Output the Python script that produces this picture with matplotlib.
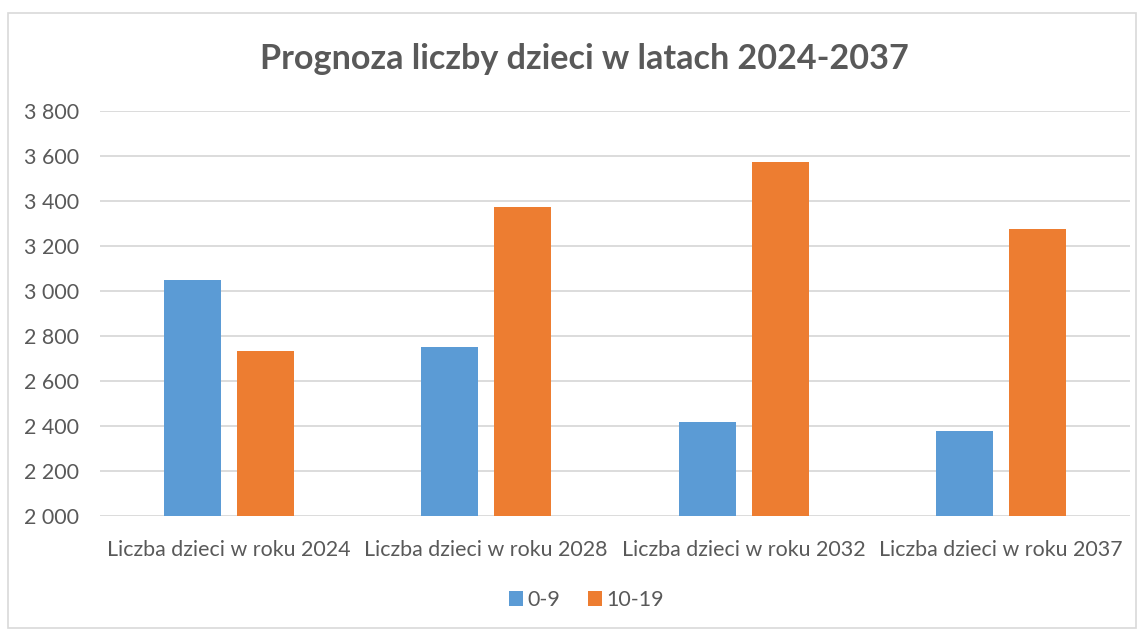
import matplotlib
matplotlib.use("Agg")
from matplotlib import pyplot as plt
from matplotlib.patches import Rectangle
from matplotlib.ticker import FuncFormatter
import numpy as np

categories = [
    "Liczba dzieci w roku 2024",
    "Liczba dzieci w roku 2028",
    "Liczba dzieci w roku 2032",
    "Liczba dzieci w roku 2037",
]
series_names = ["0-9", "10-19"]
values_0_9 = [3051, 2752, 2418, 2378]
values_10_19 = [2733, 3375, 3572, 3276]
colors = ["#5B9BD5", "#ED7D31"]
text_color = "#595959"
grid_color = "#D9D9D9"

plt.rcParams["font.family"] = ["Lato", "DejaVu Sans"]

fig = plt.figure(figsize=(11.43, 6.31), dpi=100)
ax = fig.add_axes([0.0875, 0.182, 0.901, 0.642])

x = np.arange(len(categories))
width = 0.221
offset = 0.142
ax.bar(x - offset, values_0_9, width, color=colors[0], label=series_names[0], zorder=3)
ax.bar(x + offset, values_10_19, width, color=colors[1], label=series_names[1], zorder=3)

ax.set_xlim(-0.5, len(categories) - 0.5)
ax.set_ylim(2000, 3800)
ax.set_yticks(np.arange(2000, 3801, 200))
ax.yaxis.set_major_formatter(FuncFormatter(lambda v, p: f"{int(v):,}".replace(",", " ")))
ax.set_xticks(x)
ax.set_xticklabels(categories)
ax.grid(axis="y", color=grid_color, linewidth=1.3, zorder=0)
for s in ax.spines.values():
    s.set_visible(False)
ax.tick_params(axis="both", length=0, labelsize=15.4, labelcolor=text_color)
ax.tick_params(axis="y", pad=15)
ax.tick_params(axis="x", pad=17)

fig.suptitle("Prognoza liczby dzieci w latach 2024-2037", x=0.511, y=0.907,
             fontsize=24.6, fontweight="bold", color=text_color, va="center")

fig.legend(loc="center", bbox_to_anchor=(0.513, 0.049), ncol=2, frameon=False,
           fontsize=15.4, labelcolor=text_color, handlelength=0.65, handleheight=0.65,
           handletextpad=0.2, columnspacing=1.3)

fig.patches.append(Rectangle((0.007, 0.005), 0.987, 0.975, transform=fig.transFigure,
                             fill=False, edgecolor="#D9D9D9", linewidth=1.2))

fig.savefig("out.png", dpi=100)
